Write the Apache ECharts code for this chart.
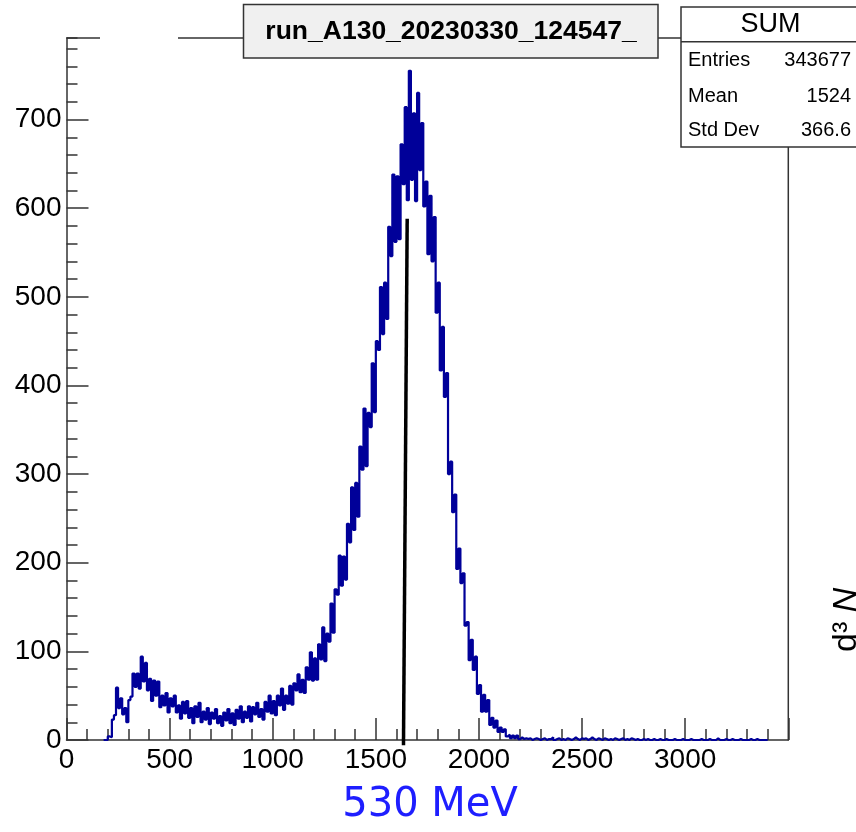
<!DOCTYPE html>
<html><head><meta charset="utf-8">
<script src="https://cdn.jsdelivr.net/npm/echarts@6/dist/echarts.min.js"></script>
<style>html,body{margin:0;padding:0;background:#fff;overflow:hidden}#c{width:856px;height:832px}</style>
</head><body><div id="c"></div><script>
// ---- data ----
const binStart = 180;
const binWidth = 10;
const counts = [
  0,0,4,3,23,28,59,36,47,29,
  36,20,45,49,75,60,75,58,94,66,
  87,56,69,44,67,50,66,37,50,39,
  53,31,47,38,50,31,39,24,43,30,
  44,25,36,19,38,26,42,20,32,23,
  36,18,31,24,35,19,27,16,31,22,
  35,19,30,17,34,24,38,20,32,25,
  38,21,37,29,42,26,35,23,43,32,
  50,30,44,28,50,39,58,34,50,41,
  61,40,64,56,74,54,68,53,82,68,
  99,67,92,68,108,91,127,89,120,111,
  154,121,170,164,208,174,207,181,244,223,
  285,237,290,252,331,305,374,309,369,353,
  425,370,450,440,511,458,516,475,579,546,
  638,562,636,565,672,627,714,609,755,632,
  707,608,730,643,696,602,630,548,614,540,
  590,482,516,417,466,387,414,300,314,257,
  277,193,216,177,188,129,133,90,113,79,
  94,52,62,32,51,32,45,17,25,14,
  22,9,14,9,12,4,6,2,5,2,
  5,1,3,1,2,1,2,0,1,2,1,0,
  1,2,0,1,1,3,0,1,2,0,
  1,0,2,1,0,1,3,1,0,2,
  1,2,0,1,3,1,0,2,1,0,
  2,1,0,1,0,2,1,0,1,2,
  0,1,0,2,1,0,1,0,0,1,
  0,1,0,0,1,0,0,1,0,0,
  1,0,0,0,1,0,0,0,1,0,
  0,0,1,0,0,0,0,1,0,0,
  0,1,0,0,0,2,0,0,0,1,
  0,0,1,0,0,0,1,0,0,0,
  0,1,0,0,1,0,0,0,0,0
];
const xRange = [0, 3500];
const xMajor = 500;
const yRange = [0, 792];
const yMajor = 100;
const yMinor = 20;
const markerLine = [[1634, -6], [1652, 588]];
const titleText = 'run_A130_20230330_124547_';
const statsTitle = 'SUM';
const statsLabels = ['Entries', 'Mean', 'Std Dev'];
const statsValues = ['343677', '1524', '366.6'];
const annotation = '530 MeV';

// ---- build ----
const histData = counts.map((v, i) => [binStart + i * binWidth, v]);
histData.push([binStart + counts.length * binWidth, 0]);

const AX = '#333';
const FONT = '"Liberation Sans", Arial, sans-serif';
const chart = echarts.init(document.getElementById('c'), null, {renderer: 'canvas'});

const gfx = [];
const ln = (x1, y1, x2, y2, w) => gfx.push({type: 'line', z: 100, shape: {x1, y1, x2, y2}, style: {stroke: AX, lineWidth: w || 1.5}});
// top frame pieces
ln(66.5, 38, 100, 38);
ln(178, 38, 243, 38);
ln(658, 38, 681, 38);
// right frame
ln(788.3, 147, 788.3, 740.5);
// title box
gfx.push({type: 'rect', z: 100, shape: {x: 243.5, y: 4.5, width: 414.5, height: 53.5}, style: {fill: '#f0f0f0', stroke: AX, lineWidth: 1.5}});
gfx.push({type: 'text', z: 101, x: 451, y: 31.5, style: {text: titleText, font: 'bold 26.5px ' + FONT, fill: '#000', textAlign: 'center', textVerticalAlign: 'middle', align: 'center', verticalAlign: 'middle'}});
// stats box
gfx.push({type: 'rect', z: 100, shape: {x: 681, y: 7, width: 180, height: 140}, style: {fill: '#fff', stroke: AX, lineWidth: 1.5}});
ln(681, 41.7, 860, 41.7);
gfx.push({type: 'text', z: 101, x: 770.5, y: 25, style: {text: statsTitle, font: '27px ' + FONT, fill: '#000', textAlign: 'center', textVerticalAlign: 'middle', align: 'center', verticalAlign: 'middle'}});
const rowY = [60, 96, 130];
statsLabels.forEach((s, i) => {
  gfx.push({type: 'text', z: 101, x: 688, y: rowY[i], style: {text: s, font: '20px ' + FONT, fill: '#000', textAlign: 'left', textVerticalAlign: 'middle', align: 'left', verticalAlign: 'middle'}});
  gfx.push({type: 'text', z: 101, x: 851, y: rowY[i], style: {text: statsValues[i], font: '20px ' + FONT, fill: '#000', textAlign: 'right', textVerticalAlign: 'middle', align: 'right', verticalAlign: 'middle'}});
});
// blue annotation
gfx.push({type: 'text', z: 101, x: 430, y: 806, style: {text: annotation, font: '40px "DejaVu Sans", sans-serif', fill: '#1e1eff', textAlign: 'center', textVerticalAlign: 'middle', align: 'center', verticalAlign: 'middle'}});
// cut-off rotated label on the right
gfx.push({type: 'text', z: 101, x: 864, y: 652, rotation: Math.PI / 2, style: {text: '{a|d³ }{b|N}', fill: '#000', textAlign: 'left', textVerticalAlign: 'bottom', align: 'left', verticalAlign: 'bottom', rich: {a: {fontSize: 34, fontFamily: FONT, fill: '#000'}, b: {fontSize: 34, fontFamily: FONT, fontStyle: 'italic', fill: '#000'}}}});

chart.setOption({
  animation: false,
  backgroundColor: '#fff',
  grid: {left: 66.5, right: 67.7, top: 38, bottom: 92, containLabel: false},
  xAxis: {
    type: 'value', min: xRange[0], max: xRange[1], interval: xMajor,
    axisLine: {show: true, onZero: false, lineStyle: {color: AX, width: 1.5}},
    axisTick: {show: true, inside: true, length: 22, lineStyle: {color: AX, width: 1.5}},
    minorTick: {show: true, splitNumber: 5, length: 11, lineStyle: {color: AX, width: 1.5}},
    axisLabel: {showMaxLabel: false, fontSize: 28, fontFamily: FONT, color: '#000', margin: 6, formatter: v => String(v)},
    splitLine: {show: false}, minorSplitLine: {show: false}
  },
  yAxis: [
    {
      type: 'value', min: yRange[0], max: yRange[1], interval: yMajor, position: 'left',
      axisLine: {show: true, onZero: false, lineStyle: {color: AX, width: 1.5}},
      axisTick: {show: true, inside: true, length: 22, lineStyle: {color: AX, width: 1.5}},
      axisLabel: {showMaxLabel: false, fontSize: 28, fontFamily: FONT, color: '#000', margin: 5, formatter: v => String(v)},
      splitLine: {show: false}
    },
    {
      type: 'value', min: yRange[0], max: yRange[1], interval: yMinor, position: 'left', offset: 0,
      axisLine: {show: false},
      axisTick: {show: true, inside: true, length: 11, lineStyle: {color: AX, width: 1.5}},
      axisLabel: {show: false},
      splitLine: {show: false}
    }
  ],
  graphic: {elements: gfx},
  series: [
    {
      type: 'line', step: 'end', data: histData, yAxisIndex: 0,
      symbol: 'none', showSymbol: false, clip: true,
      lineStyle: {color: '#000099', width: 2.2}, z: 3
    },
    {
      type: 'line', data: markerLine, yAxisIndex: 0,
      symbol: 'none', showSymbol: false, clip: false,
      lineStyle: {color: '#000', width: 3.5}, z: 4
    }
  ]
});
</script></body></html>
